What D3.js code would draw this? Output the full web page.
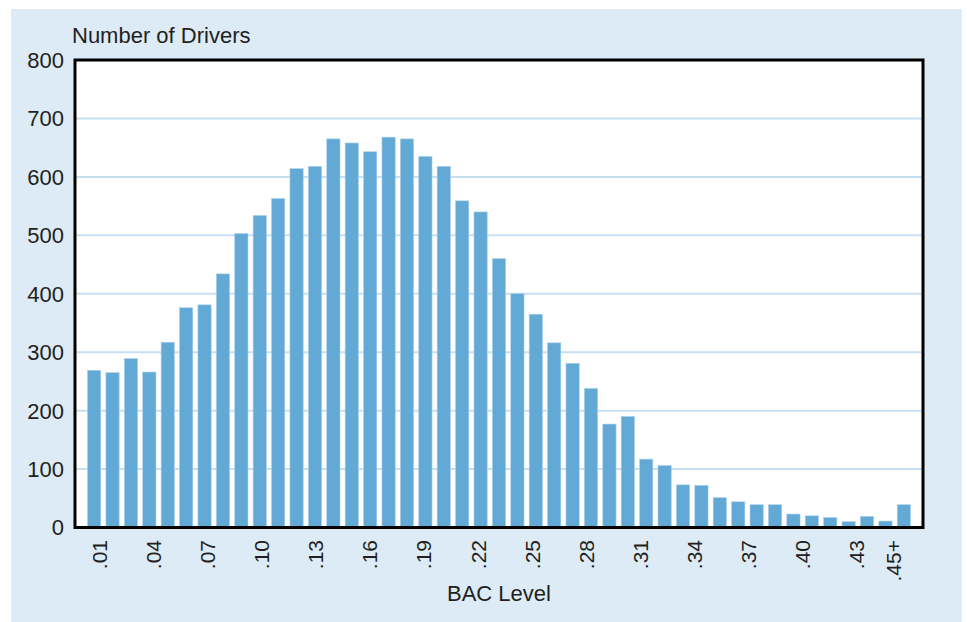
<!DOCTYPE html>
<html><head><meta charset="utf-8">
<script src="https://cdn.jsdelivr.net/npm/d3@7"></script>
<style>html,body{margin:0;padding:0;background:#fff;} text{font-family:"Liberation Sans",Arial,sans-serif;fill:#231f20;}</style>
</head><body>
<svg id="chart" width="967" height="622"></svg>
<script>
const categories = [".01",".02",".03",".04",".05",".06",".07",".08",".09",".10",
  ".11",".12",".13",".14",".15",".16",".17",".18",".19",".20",
  ".21",".22",".23",".24",".25",".26",".27",".28",".29",".30",
  ".31",".32",".33",".34",".35",".36",".37",".38",".39",".40",
  ".41",".42",".43",".44",".45+"];
const drivers = [269,265,289,266,317,376,381,434,503,534,
  563,614,618,665,658,643,668,665,635,618,
  559,540,460,400,365,316,281,238,177,190,
  117,106,73,72,51,44,39,39,23,20,
  17,10,19,11,39];
const tickLabels = [".01",".04",".07",".10",".13",".16",".19",".22",".25",".28",".31",".34",".37",".40",".43",".45+"];
const yTicks = [0,100,200,300,400,500,600,700,800];
const yTitle = "Number of Drivers";
const xTitle = "BAC Level";

const svg = d3.select("#chart");
const L = 75, R = 923, T = 60, B = 527.5;

svg.append("rect").attr("x", 11).attr("y", 9).attr("width", 951).attr("height", 613).attr("fill", "#dcebf6");
svg.append("rect").attr("x", L).attr("y", T).attr("width", R - L).attr("height", B - T).attr("fill", "#fff");

const x = d3.scaleBand().domain(categories).range([L, R]).paddingInner(0.28).paddingOuter(0.68);
const xLab = d3.scalePoint().domain(categories).range([99, 893]);
const y = d3.scaleLinear().domain([0, 800]).range([B, T]);

// gridlines
svg.append("g").selectAll("line").data(yTicks.filter(d => d > 0 && d < 800)).join("line")
  .attr("x1", L).attr("x2", R).attr("y1", d => y(d)).attr("y2", d => y(d))
  .attr("stroke", "#c6e0f3").attr("stroke-width", 2);

// bars
svg.append("g").selectAll("rect").data(drivers).join("rect")
  .attr("x", (d, i) => x(categories[i]))
  .attr("width", x.bandwidth())
  .attr("y", d => y(d))
  .attr("height", d => y(0) - y(d))
  .attr("fill", "#62a9d6")
  .attr("stroke", "#a9d0ea").attr("stroke-width", 0.6);

// frame
svg.append("rect").attr("x", L).attr("y", T).attr("width", R - L).attr("height", B - T)
  .attr("fill", "none").attr("stroke", "#000").attr("stroke-width", 3);

// y tick labels
svg.append("g").selectAll("text").data(yTicks).join("text")
  .attr("x", 64).attr("y", d => y(d)).attr("dy", "0.36em")
  .attr("text-anchor", "end").attr("font-size", 22).text(d => d);

// x tick labels
svg.append("g").selectAll("text").data(tickLabels).join("text")
  .attr("transform", d => `translate(${xLab(d)},540) rotate(-90)`)
  .attr("text-anchor", "end").attr("dy", "0.36em")
  .attr("font-size", 21).text(d => d);

svg.append("text").attr("x", 72).attr("y", 43).attr("font-size", 22).text(yTitle);
svg.append("text").attr("x", (L + R) / 2).attr("y", 601).attr("text-anchor", "middle").attr("font-size", 22).text(xTitle);
</script>
</body></html>
